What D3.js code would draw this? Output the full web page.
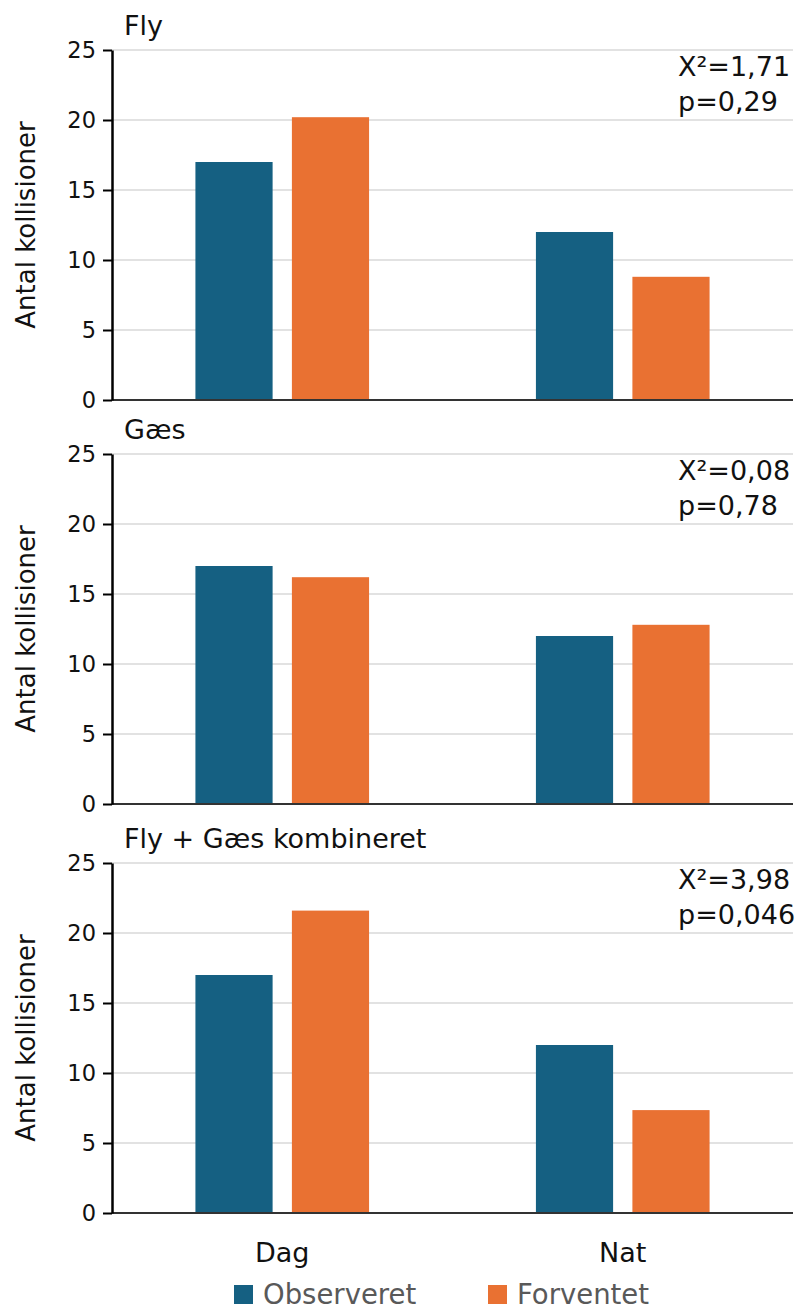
<!DOCTYPE html>
<html>
<head>
<meta charset="utf-8">
<script src="https://cdn.jsdelivr.net/npm/d3@7"></script>
<style>
  body { margin: 0; background: #fff; }
  text { font-family: "DejaVu Sans", sans-serif; }
</style>
</head>
<body>
<svg width="800" height="1312"></svg>
<script>
const svg = d3.select("svg");

// data
const categories = ["Dag", "Nat"];
const seriesNames = ["Observeret", "Forventet"];
const panelTitles = ["Fly", "Gæs", "Fly + Gæs kombineret"];
const observed = [[17, 12], [17, 12], [17, 12]];
const expected = [[20.2, 8.8], [16.2, 12.8], [21.6, 7.35]];
const chiSquare = ["1,71", "0,08", "3,98"];
const pValues = ["0,29", "0,78", "0,046"];
const yTicks = [0, 5, 10, 15, 20, 25];

const colors = { "Observeret": "#156082", "Forventet": "#E97132" };

// layout
const left = 112, right = 793;
const panelTop = [50, 454, 863];
const panelH = 350;

const x0 = d3.scaleBand()
    .domain(categories)
    .range([left, right])
    .paddingInner(0.49)
    .paddingOuter(0.245);

const x1 = d3.scaleBand()
    .domain(seriesNames)
    .range([0, x0.bandwidth()])
    .paddingInner(0.2);

panelTitles.forEach((title, i) => {
    const top = panelTop[i];
    const y = d3.scaleLinear().domain([0, 25]).range([top + panelH, top]);
    const g = svg.append("g");

    // gridlines
    g.append("g")
        .selectAll("line")
        .data(yTicks.filter(t => t > 0))
        .enter()
        .append("line")
        .attr("x1", left)
        .attr("x2", right)
        .attr("y1", d => y(d))
        .attr("y2", d => y(d))
        .attr("stroke", "#d9d9d9")
        .attr("stroke-width", 1.5);

    // bars
    const rows = categories.map((c, j) => ({
        cat: c,
        values: [
            { name: "Observeret", value: observed[i][j] },
            { name: "Forventet", value: expected[i][j] }
        ]
    }));

    g.append("g")
        .selectAll("g")
        .data(rows)
        .enter()
        .append("g")
        .attr("transform", d => `translate(${x0(d.cat)},0)`)
        .selectAll("rect")
        .data(d => d.values)
        .enter()
        .append("rect")
        .attr("x", d => x1(d.name))
        .attr("width", x1.bandwidth())
        .attr("y", d => y(d.value))
        .attr("height", d => y(0) - y(d.value))
        .attr("fill", d => colors[d.name]);

    // baseline
    g.append("line")
        .attr("x1", left)
        .attr("x2", right)
        .attr("y1", y(0))
        .attr("y2", y(0))
        .attr("stroke", "#333")
        .attr("stroke-width", 2);

    // y axis
    const axis = g.append("g")
        .attr("transform", `translate(${left},0)`)
        .call(d3.axisLeft(y).tickValues(yTicks).tickSize(9).tickSizeOuter(0).tickPadding(7));
    axis.select(".domain").attr("stroke", "#000").attr("stroke-width", 2.5);
    axis.selectAll(".tick line").attr("stroke", "#000").attr("stroke-width", 2);
    axis.selectAll(".tick text")
        .attr("font-family", "DejaVu Sans")
        .attr("font-size", 22.5)
        .attr("fill", "#111");

    // y title
    g.append("text")
        .attr("transform", `translate(35,${top + panelH / 2}) rotate(-90)`)
        .attr("text-anchor", "middle")
        .attr("font-size", 26)
        .attr("fill", "#111")
        .text("Antal kollisioner");

    // panel title
    g.append("text")
        .attr("x", 124)
        .attr("y", top - 15)
        .attr("font-size", 27)
        .attr("fill", "#111")
        .text(title);

    // statistics
    g.append("text")
        .attr("x", 678)
        .attr("y", top + 26)
        .attr("font-size", 27)
        .attr("fill", "#111")
        .text("X²=" + chiSquare[i]);
    g.append("text")
        .attr("x", 678)
        .attr("y", top + 61)
        .attr("font-size", 27)
        .attr("fill", "#111")
        .text("p=" + pValues[i]);
});

// category labels
svg.append("g")
    .selectAll("text")
    .data(categories)
    .enter()
    .append("text")
    .attr("x", d => x0(d) + x0.bandwidth() / 2)
    .attr("y", 1262)
    .attr("text-anchor", "middle")
    .attr("font-size", 27)
    .attr("fill", "#111")
    .text(d => d);

// legend
const legendX = [234, 488];
const legend = svg.append("g")
    .selectAll("g")
    .data(seriesNames)
    .enter()
    .append("g")
    .attr("transform", (d, i) => `translate(${legendX[i]},1285)`);

legend.append("rect")
    .attr("width", 19)
    .attr("height", 19)
    .attr("fill", d => colors[d]);

legend.append("text")
    .attr("x", 29)
    .attr("y", 19)
    .attr("font-size", 27.5)
    .attr("fill", "#595959")
    .text(d => d);
</script>
</body>
</html>
